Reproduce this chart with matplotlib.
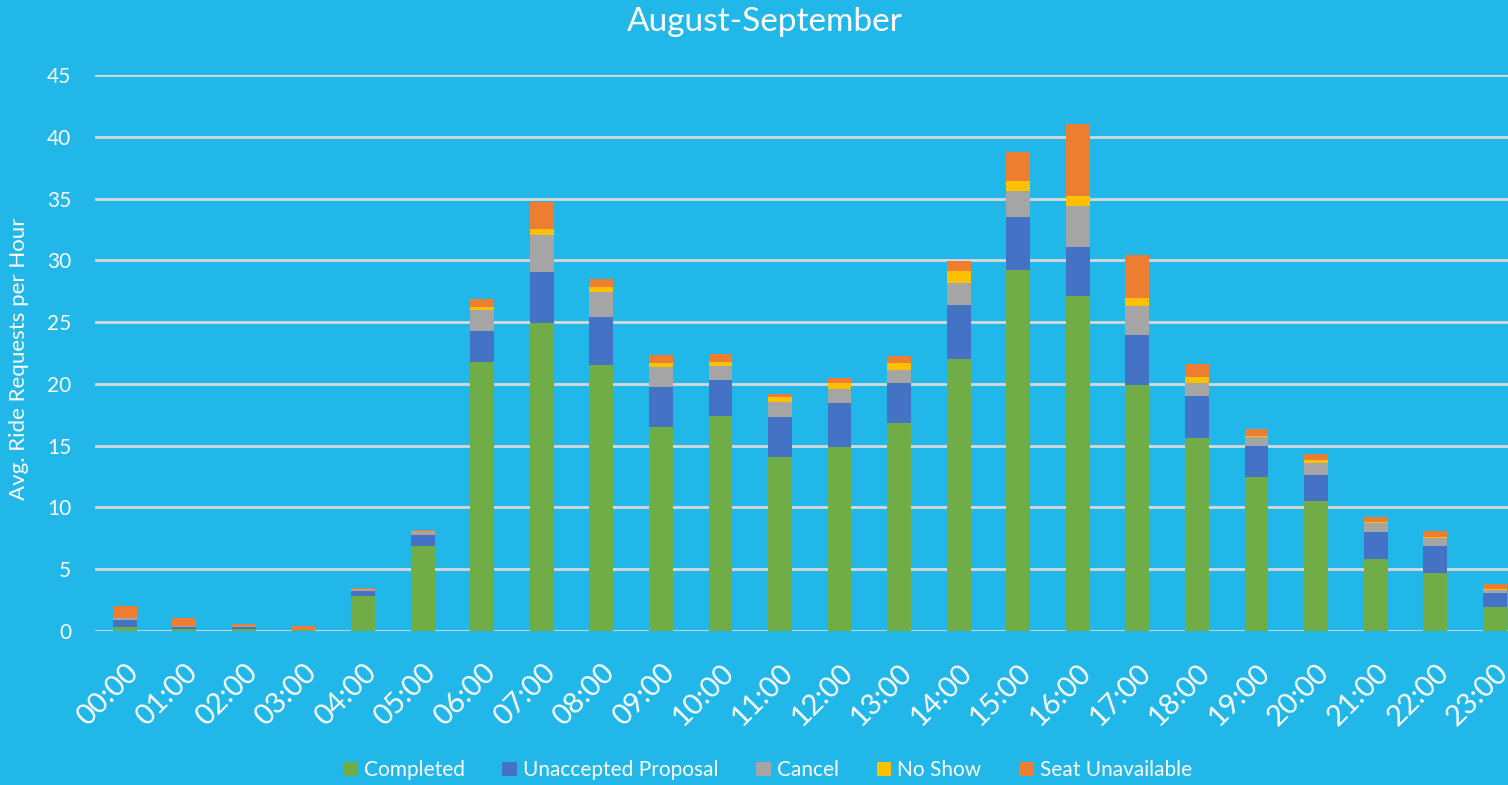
import numpy as np
import matplotlib.pyplot as plt

hours = [f"{h:02d}:00" for h in range(24)]

completed = [0.30, 0.15, 0.15, 0.05, 2.83, 6.90, 21.80, 24.95, 21.53, 16.50, 17.40, 14.08,
             14.90, 16.81, 22.04, 29.22, 27.14, 19.90, 15.65, 12.49, 10.49, 5.83, 4.69, 1.92]
unaccepted = [0.57, 0.15, 0.15, 0.00, 0.43, 0.85, 2.48, 4.08, 3.86, 3.27, 2.90, 3.21,
              3.55, 3.26, 4.34, 4.26, 3.94, 4.08, 3.39, 2.48, 2.14, 2.18, 2.21, 1.15]
cancel = [0.17, 0.10, 0.08, 0.00, 0.10, 0.35, 1.70, 3.02, 2.05, 1.62, 1.17, 1.25,
          1.13, 1.05, 1.81, 2.13, 3.32, 2.32, 1.05, 0.73, 0.99, 0.71, 0.63, 0.28]
no_show = [0.02, 0.00, 0.00, 0.00, 0.05, 0.03, 0.27, 0.48, 0.40, 0.33, 0.33, 0.40,
           0.50, 0.57, 0.92, 0.81, 0.83, 0.62, 0.49, 0.08, 0.22, 0.08, 0.10, 0.05]
seat_unavail = [1.00, 0.68, 0.22, 0.38, 0.08, 0.05, 0.62, 2.22, 0.62, 0.62, 0.62, 0.27,
                0.43, 0.59, 0.81, 2.37, 5.80, 3.54, 1.02, 0.54, 0.51, 0.45, 0.44, 0.40]

series = [("Completed", completed, "#70AD47"),
          ("Unaccepted Proposal", unaccepted, "#4472C4"),
          ("Cancel", cancel, "#A5A5A5"),
          ("No Show", no_show, "#FFC000"),
          ("Seat Unavailable", seat_unavail, "#ED7D31")]

bg = "#21B7E9"
plt.rcParams['font.family'] = ['Lato', 'DejaVu Sans']

fig = plt.figure(figsize=(15.08, 7.85), dpi=100, facecolor=bg)
ax = fig.add_axes([0.063, 0.1962, 0.948, 0.7083], facecolor=bg)

x = np.arange(len(hours))
bottom = np.zeros(len(hours))
for name, vals, col in series:
    ax.bar(x, vals, width=0.4, bottom=bottom, color=col, label=name, zorder=3)
    bottom += np.array(vals)

ax.set_xlim(-0.5, 23.5)
ax.set_ylim(0, 45)
ax.set_yticks(range(0, 46, 5))
ax.yaxis.grid(True, color="#D9D9D9", linewidth=2, zorder=0)
ax.set_axisbelow(True)
for s in ax.spines.values():
    s.set_visible(False)
ax.tick_params(axis='both', length=0, colors='white')
ax.tick_params(axis='y', labelsize=15, pad=17)
ax.set_xticks(x)
ax.set_xticklabels(hours, rotation=45, ha='right', rotation_mode='anchor',
                   fontsize=21, color='white')
ax.tick_params(axis='x', pad=20)

ax.set_ylabel("Avg. Ride Requests per Hour", fontsize=16, color='white', labelpad=10)
ax.yaxis.set_label_coords(-0.046, 0.49)
fig.text(0.507, 0.972, "August-September", ha='center', va='center',
         fontsize=24, color='white')

leg = fig.legend(loc='center', bbox_to_anchor=(0.509, 0.019), ncol=5, frameon=False,
                 fontsize=15, handlelength=0.7, handleheight=0.7, handletextpad=0.3,
                 columnspacing=1.8)
for t in leg.get_texts():
    t.set_color('white')

fig.savefig("out.png", dpi=100, facecolor=bg)
